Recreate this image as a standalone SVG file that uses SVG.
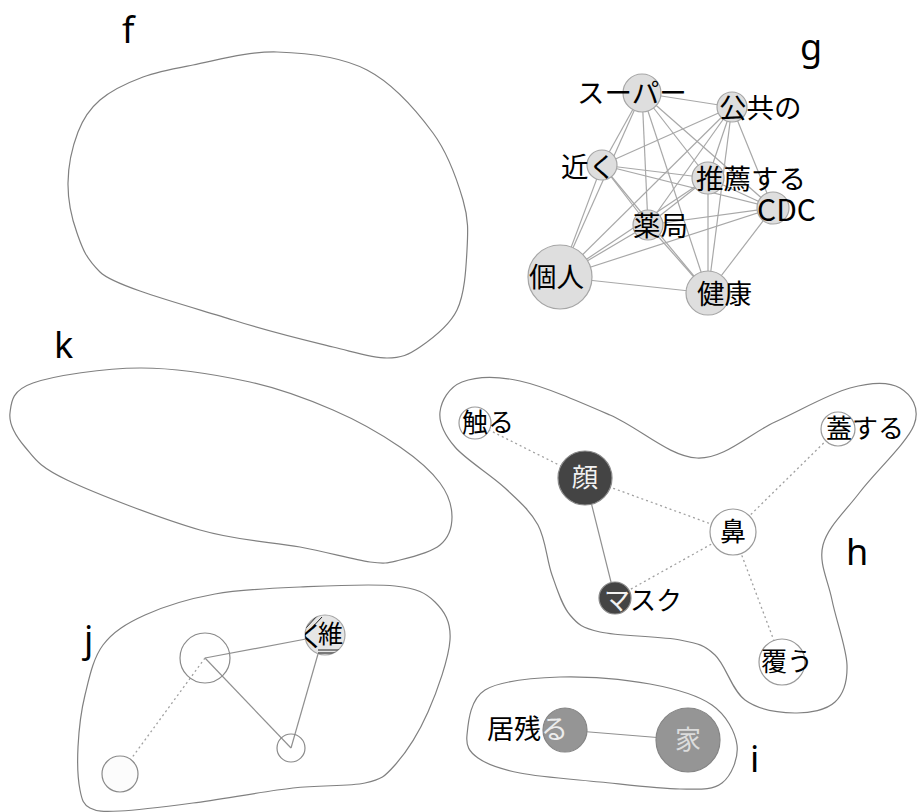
<svg xmlns="http://www.w3.org/2000/svg" width="917" height="812" viewBox="0 0 917 812">
  <style>
    .hull { fill: none; stroke: #808080; stroke-width: 1.2; }
    .tag { font-family: "Noto Sans", "DejaVu Sans", sans-serif; font-size: 36px; fill: #000; }
    .lbl { font-family: "Noto Sans CJK JP", "Noto Sans", sans-serif; font-size: 26px; fill: #000; }
    .gl { font-size: 27.5px; }
    .ge { stroke: #a8a8a8; stroke-width: 1.2; }
    .e { stroke: #909090; stroke-width: 1.2; fill: none; }
    .dot { stroke: #a0a0a0; stroke-width: 1.3; stroke-dasharray: 2 3; fill: none; }
    .gn { fill: #dedede; stroke: #a6a6a6; stroke-width: 1.2; }
    .wn { fill: #ffffff; stroke: #9a9a9a; stroke-width: 1.2; }
    .dn { fill: #444444; stroke: #8a8a8a; stroke-width: 1.2; }
    .mn { fill: #959595; stroke: #858585; stroke-width: 1.2; }
    .on { fill: none; stroke: #8a8a8a; stroke-width: 1.2; }
  </style>
  <defs>
    <clipPath id="clipWei"><circle cx="325" cy="635" r="20"/></clipPath>
  </defs>
  <rect width="917" height="812" fill="#ffffff"/>

  <!-- cluster outlines -->
  <g id="hulls">
    <path id="hull-f" class="hull" d="M 68,183 C 68.2,166.2 72.7,145.8 78,132 C 83.3,118.2 89.2,109.2 100,100 C 110.8,90.8 127.5,82.8 143,77 C 158.5,71.2 170.7,69.2 193,65 C 215.3,60.8 248,51.2 277,52 C 306,52.8 341,56.5 367,70 C 393,83.5 417,111.3 433,133 C 449,154.7 457.3,180.5 463,200 C 468.7,219.5 468,231.7 467,250 C 466,268.3 464.8,293.8 457,310 C 449.2,326.2 431.7,339 420,347 C 408.3,355 401.5,358 387,358 C 372.5,358 358.7,353.3 333,347 C 307.3,340.7 271.8,332.5 233,320 C 194.2,307.5 115,287 100,272 C 85,257 82.3,247.8 77,233 C 71.7,218.2 67.8,199.8 68,183 Z"/>
    <path id="hull-k" class="hull" d="M 10,413 C 11.3,402.3 11.3,390.5 33,383 C 54.7,375.5 103.8,368.2 140,368 C 176.2,367.8 217.8,375 250,382 C 282.2,389 308,399.2 333,410 C 358,420.8 382.2,434.8 400,447 C 417.8,459.2 431.3,471.3 440,483 C 448.7,494.7 452,506.7 452,517 C 452,527.3 448.7,537.8 440,545 C 431.3,552.2 411.7,557.2 400,560 C 388.3,562.8 386.7,564.2 370,562 C 353.3,559.8 328.3,552.3 300,547 C 271.7,541.7 238.8,541.2 200,530 C 161.2,518.8 96.2,493.8 67,480 C 37.8,466.2 34.5,458.2 25,447 C 15.5,435.8 8.7,423.7 10,413 Z"/>
    <path id="hull-h" class="hull" d="M 440,412 C 441.2,401.2 448.7,387.2 462,382 C 475.3,376.8 495.3,375.5 520,381 C 544.7,386.5 580.5,402.2 610,415 C 639.5,427.8 669.5,456.8 697,458 C 724.5,459.2 749.5,433.7 775,422 C 800.5,410.3 829.2,393.7 850,388 C 870.8,382.3 889.3,381.8 900,388 C 910.7,394.2 920.7,407.7 914,425 C 907.3,442.3 875.2,472 860,492 C 844.8,512 827.7,527 823,545 C 818.3,563 828,580 832,600 C 836,620 846.5,648 847,665 C 847.5,682 843.7,694 835,702 C 826.3,710 810,713.3 795,713 C 780,712.7 758.3,709.7 745,700 C 731.7,690.3 725.8,665 715,655 C 704.2,645 699.2,643.8 680,640 C 660.8,636.2 618.3,636.2 600,632 C 581.7,627.8 578,624.5 570,615 C 562,605.5 557.3,590 552,575 C 546.7,560 545.8,539.5 538,525 C 530.2,510.5 518.8,501 505,488 C 491.2,475 465.8,459.7 455,447 C 444.2,434.3 438.8,422.8 440,412 Z"/>
    <path id="hull-i" class="hull" d="M 467,735 C 468.2,723.7 469.5,699.7 485,690 C 500.5,680.3 532.5,678 560,677 C 587.5,676 624.7,679.3 650,684 C 675.3,688.7 697.5,694.8 712,705 C 726.5,715.2 735.3,732 737,745 C 738.7,758 731.5,775.7 722,783 C 712.5,790.3 700.3,789.2 680,789 C 659.7,788.8 626.7,784.7 600,782 C 573.3,779.3 540.3,777 520,773 C 499.7,769 486.8,764.3 478,758 C 469.2,751.7 465.8,746.3 467,735 Z"/>
    <path id="hull-j" class="hull" d="M 78,747 C 78.8,731.2 80.8,712 85,695 C 89.2,678 93,658.3 103,645 C 113,631.7 126.3,623.5 145,615 C 163.7,606.5 189.2,598.7 215,594 C 240.8,589.3 270,588.3 300,587 C 330,585.7 372.5,583.5 395,586 C 417.5,588.5 425.8,593 435,602 C 444.2,611 451.2,621.7 450,640 C 448.8,658.3 437.2,691.2 428,712 C 418.8,732.8 405.5,753.2 395,765 C 384.5,776.8 382,779.2 365,783 C 348,786.8 321.7,784.7 293,788 C 264.3,791.3 221.8,799.2 193,803 C 164.2,806.8 137.2,810.2 120,811 C 102.8,811.8 96.7,811.5 90,808 C 83.3,804.5 82,800.2 80,790 C 78,779.8 77.2,762.8 78,747 Z"/>
  </g>

  <!-- cluster letters -->
  <g id="tags">
    <text class="tag" x="122" y="43">f</text>
    <text class="tag" x="800" y="60">g</text>
    <text class="tag" x="846" y="565">h</text>
    <text class="tag" x="750" y="772">i</text>
    <text class="tag" x="84" y="652">j</text>
    <text class="tag" x="54" y="358">k</text>
  </g>

  <!-- connectors -->
  <g id="connectors">
    <!-- cluster g: every pair linked -->
    <line class="ge" x1="642" y1="93" x2="732" y2="107"/>
    <line class="ge" x1="642" y1="93" x2="602" y2="165"/>
    <line class="ge" x1="642" y1="93" x2="708" y2="178"/>
    <line class="ge" x1="642" y1="93" x2="773" y2="208"/>
    <line class="ge" x1="642" y1="93" x2="648" y2="225"/>
    <line class="ge" x1="642" y1="93" x2="560" y2="277"/>
    <line class="ge" x1="642" y1="93" x2="708" y2="293"/>
    <line class="ge" x1="732" y1="107" x2="602" y2="165"/>
    <line class="ge" x1="732" y1="107" x2="708" y2="178"/>
    <line class="ge" x1="732" y1="107" x2="773" y2="208"/>
    <line class="ge" x1="732" y1="107" x2="648" y2="225"/>
    <line class="ge" x1="732" y1="107" x2="560" y2="277"/>
    <line class="ge" x1="732" y1="107" x2="708" y2="293"/>
    <line class="ge" x1="602" y1="165" x2="708" y2="178"/>
    <line class="ge" x1="602" y1="165" x2="773" y2="208"/>
    <line class="ge" x1="602" y1="165" x2="648" y2="225"/>
    <line class="ge" x1="602" y1="165" x2="560" y2="277"/>
    <line class="ge" x1="602" y1="165" x2="708" y2="293"/>
    <line class="ge" x1="708" y1="178" x2="773" y2="208"/>
    <line class="ge" x1="708" y1="178" x2="648" y2="225"/>
    <line class="ge" x1="708" y1="178" x2="560" y2="277"/>
    <line class="ge" x1="708" y1="178" x2="708" y2="293"/>
    <line class="ge" x1="773" y1="208" x2="648" y2="225"/>
    <line class="ge" x1="773" y1="208" x2="560" y2="277"/>
    <line class="ge" x1="773" y1="208" x2="708" y2="293"/>
    <line class="ge" x1="648" y1="225" x2="560" y2="277"/>
    <line class="ge" x1="648" y1="225" x2="708" y2="293"/>
    <line class="ge" x1="560" y1="277" x2="708" y2="293"/>
    <!-- cluster h -->
    <line class="dot" x1="475" y1="423" x2="585" y2="478"/>
    <line class="dot" x1="585" y1="478" x2="733" y2="532"/>
    <line class="e" x1="585" y1="478" x2="615" y2="598"/>
    <line class="dot" x1="733" y1="532" x2="838" y2="429"/>
    <line class="dot" x1="733" y1="532" x2="615" y2="598"/>
    <line class="dot" x1="733" y1="532" x2="782" y2="662"/>
    <!-- cluster i -->
    <line class="e" x1="565" y1="730" x2="688" y2="740"/>
    <!-- cluster j -->
    <line class="e" x1="205" y1="658" x2="306" y2="639"/>
    <line class="e" x1="205" y1="658" x2="291" y2="748"/>
    <line class="e" x1="318" y1="654" x2="291" y2="748"/>
    <line class="dot" x1="205" y1="658" x2="120" y2="774"/>
  </g>

  <!-- cluster g nodes -->
  <g id="n-super"><circle class="gn" cx="642" cy="93" r="19"/><text class="lbl gl" x="577" y="103">スーパー</text></g>
  <g id="n-kokyo"><circle class="gn" cx="732" cy="107" r="15"/><text class="lbl gl" x="719" y="118">公共の</text></g>
  <g id="n-chikaku"><circle class="gn" cx="602" cy="165" r="15"/><text class="lbl gl" x="561" y="177">近く</text></g>
  <g id="n-suisen"><circle class="gn" cx="708" cy="178" r="16"/><text class="lbl gl" x="696" y="189">推薦する</text></g>
  <g id="n-cdc"><circle class="gn" cx="773" cy="208" r="16"/><text class="lbl" x="757" y="221" style="font-size:30px">CDC</text></g>
  <g id="n-yakkyoku"><circle class="gn" cx="648" cy="225" r="15"/><text class="lbl gl" x="633" y="236">薬局</text></g>
  <g id="n-kojin"><circle class="gn" cx="560" cy="277" r="32"/><text class="lbl gl" x="529" y="287">個人</text></g>
  <g id="n-kenko"><circle class="gn" cx="708" cy="293" r="22"/><text class="lbl gl" x="697" y="304">健康</text></g>

  <!-- cluster h nodes -->
  <g id="n-fureru"><circle class="wn" cx="475" cy="423" r="16"/><text class="lbl" x="462" y="432">触る</text></g>
  <g id="n-kao"><circle class="dn" cx="585" cy="478" r="27"/><text class="lbl" x="585" y="487" text-anchor="middle" style="fill:#f2f2f2">顔</text></g>
  <g id="n-hana"><circle class="wn" cx="733" cy="532" r="23"/><text class="lbl" x="733" y="541" text-anchor="middle">鼻</text></g>
  <g id="n-futa"><circle class="wn" cx="838" cy="429" r="17"/><text class="lbl" x="826" y="438">蓋する</text></g>
  <g id="n-mask"><circle class="dn" cx="615" cy="598" r="16"/><text class="lbl" x="604" y="610"><tspan style="fill:#f2f2f2">マ</tspan>スク</text></g>
  <g id="n-oou"><circle class="wn" cx="782" cy="662" r="23"/><text class="lbl" x="761" y="671">覆う</text></g>

  <!-- cluster i nodes -->
  <g id="n-inokoru"><circle class="mn" cx="565" cy="730" r="22"/><text class="lbl" x="487" y="739" style="font-size:27px">居残<tspan style="fill:#ececec">る</tspan></text></g>
  <g id="n-ie"><circle class="mn" cx="688" cy="740" r="32"/><text class="lbl" x="688" y="749" text-anchor="middle" style="fill:#dcdcdc">家</text></g>

  <!-- cluster j nodes -->
  <g id="n-j1"><circle class="on" cx="205" cy="658" r="25"/></g>
  <g id="n-j2"><circle class="on" cx="291" cy="748" r="14"/></g>
  <g id="n-j3"><circle cx="120" cy="774" r="18" fill="#fcfcfc" stroke="#8a8a8a" stroke-width="1.2"/></g>
  <g id="n-wei">
    <circle cx="325" cy="635" r="20" fill="#e6e6e6" stroke="#a6a6a6" stroke-width="1.2"/>
    <g clip-path="url(#clipWei)">
      <line x1="304" y1="630" x2="318" y2="615" stroke="#222" stroke-width="1"/>
      <line x1="306" y1="634" x2="322" y2="617" stroke="#222" stroke-width="1"/>
      <line x1="318" y1="650" x2="345" y2="650" stroke="#222" stroke-width="1"/>
      <line x1="318" y1="653" x2="345" y2="653" stroke="#555" stroke-width="1.5"/>
      <text class="lbl" x="297" y="647" style="font-size:28px">く<tspan x="318" y="643" style="font-size:25px">維</tspan></text>
    </g>
  </g>
</svg>
